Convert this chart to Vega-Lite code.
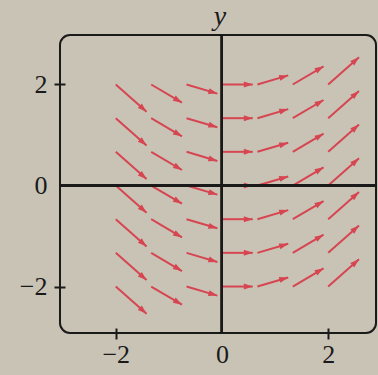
{
  "$schema": "https://vega.github.io/schema/vega-lite/v6.json",
  "width": 316,
  "height": 298,
  "autosize": {"type": "none"},
  "padding": {"left": 60, "top": 35, "right": 2, "bottom": 42},
  "background": "#c9c3b6",
  "title": {"text": "y", "font": "Liberation Serif", "fontStyle": "italic", "fontWeight": "normal", "fontSize": 28, "color": "#1a1a1a", "anchor": "middle", "frame": "group", "offset": 3, "dx": 2},
  "config": {"view": {"stroke": "#1a1a1a", "strokeWidth": 2, "cornerRadius": 10, "fill": null}},
  "data": {"values": [
    {"x": -2, "y": 2, "x_end": -1.42, "y_end": 1.46, "angle": 131.5},
    {"x": -1.333, "y": 2, "x_end": -0.753, "y_end": 1.64, "angle": 120.5},
    {"x": -0.667, "y": 2, "x_end": -0.087, "y_end": 1.82, "angle": 106.4},
    {"x": 0, "y": 2, "x_end": 0.58, "y_end": 2, "angle": 90},
    {"x": 0.667, "y": 2, "x_end": 1.247, "y_end": 2.18, "angle": 73.6},
    {"x": 1.333, "y": 2, "x_end": 1.913, "y_end": 2.36, "angle": 59.5},
    {"x": 2, "y": 2, "x_end": 2.58, "y_end": 2.54, "angle": 48.5},
    {"x": -2, "y": 1.333, "x_end": -1.42, "y_end": 0.793, "angle": 131.5},
    {"x": -1.333, "y": 1.333, "x_end": -0.753, "y_end": 0.973, "angle": 120.5},
    {"x": -0.667, "y": 1.333, "x_end": -0.087, "y_end": 1.153, "angle": 106.4},
    {"x": 0, "y": 1.333, "x_end": 0.58, "y_end": 1.333, "angle": 90},
    {"x": 0.667, "y": 1.333, "x_end": 1.247, "y_end": 1.513, "angle": 73.6},
    {"x": 1.333, "y": 1.333, "x_end": 1.913, "y_end": 1.693, "angle": 59.5},
    {"x": 2, "y": 1.333, "x_end": 2.58, "y_end": 1.873, "angle": 48.5},
    {"x": -2, "y": 0.667, "x_end": -1.42, "y_end": 0.127, "angle": 131.5},
    {"x": -1.333, "y": 0.667, "x_end": -0.753, "y_end": 0.307, "angle": 120.5},
    {"x": -0.667, "y": 0.667, "x_end": -0.087, "y_end": 0.487, "angle": 106.4},
    {"x": 0, "y": 0.667, "x_end": 0.58, "y_end": 0.667, "angle": 90},
    {"x": 0.667, "y": 0.667, "x_end": 1.247, "y_end": 0.847, "angle": 73.6},
    {"x": 1.333, "y": 0.667, "x_end": 1.913, "y_end": 1.027, "angle": 59.5},
    {"x": 2, "y": 0.667, "x_end": 2.58, "y_end": 1.207, "angle": 48.5},
    {"x": -2, "y": 0, "x_end": -1.42, "y_end": -0.54, "angle": 131.5},
    {"x": -1.333, "y": 0, "x_end": -0.753, "y_end": -0.36, "angle": 120.5},
    {"x": -0.667, "y": 0, "x_end": -0.087, "y_end": -0.18, "angle": 106.4},
    {"x": 0, "y": 0, "x_end": 0.58, "y_end": 0, "angle": 90},
    {"x": 0.667, "y": 0, "x_end": 1.247, "y_end": 0.18, "angle": 73.6},
    {"x": 1.333, "y": 0, "x_end": 1.913, "y_end": 0.36, "angle": 59.5},
    {"x": 2, "y": 0, "x_end": 2.58, "y_end": 0.54, "angle": 48.5},
    {"x": -2, "y": -0.667, "x_end": -1.42, "y_end": -1.207, "angle": 131.5},
    {"x": -1.333, "y": -0.667, "x_end": -0.753, "y_end": -1.027, "angle": 120.5},
    {"x": -0.667, "y": -0.667, "x_end": -0.087, "y_end": -0.847, "angle": 106.4},
    {"x": 0, "y": -0.667, "x_end": 0.58, "y_end": -0.667, "angle": 90},
    {"x": 0.667, "y": -0.667, "x_end": 1.247, "y_end": -0.487, "angle": 73.6},
    {"x": 1.333, "y": -0.667, "x_end": 1.913, "y_end": -0.307, "angle": 59.5},
    {"x": 2, "y": -0.667, "x_end": 2.58, "y_end": -0.127, "angle": 48.5},
    {"x": -2, "y": -1.333, "x_end": -1.42, "y_end": -1.873, "angle": 131.5},
    {"x": -1.333, "y": -1.333, "x_end": -0.753, "y_end": -1.693, "angle": 120.5},
    {"x": -0.667, "y": -1.333, "x_end": -0.087, "y_end": -1.513, "angle": 106.4},
    {"x": 0, "y": -1.333, "x_end": 0.58, "y_end": -1.333, "angle": 90},
    {"x": 0.667, "y": -1.333, "x_end": 1.247, "y_end": -1.153, "angle": 73.6},
    {"x": 1.333, "y": -1.333, "x_end": 1.913, "y_end": -0.973, "angle": 59.5},
    {"x": 2, "y": -1.333, "x_end": 2.58, "y_end": -0.793, "angle": 48.5},
    {"x": -2, "y": -2, "x_end": -1.42, "y_end": -2.54, "angle": 131.5},
    {"x": -1.333, "y": -2, "x_end": -0.753, "y_end": -2.36, "angle": 120.5},
    {"x": -0.667, "y": -2, "x_end": -0.087, "y_end": -2.18, "angle": 106.4},
    {"x": 0, "y": -2, "x_end": 0.58, "y_end": -2, "angle": 90},
    {"x": 0.667, "y": -2, "x_end": 1.247, "y_end": -1.82, "angle": 73.6},
    {"x": 1.333, "y": -2, "x_end": 1.913, "y_end": -1.64, "angle": 59.5},
    {"x": 2, "y": -2, "x_end": 2.58, "y_end": -1.46, "angle": 48.5}
  ]},
  "layer": [
    {
      "mark": {"type": "rule", "color": "#d64550", "strokeWidth": 2},
      "encoding": {
        "x": {"field": "x", "type": "quantitative", "scale": {"domain": [-3.05, 2.9], "nice": false, "zero": false},
          "axis": {"title": null, "values": [-2, 0, 2], "grid": false, "domain": false, "offset": -5, "tickSize": 11, "tickWidth": 2, "tickColor": "#1a1a1a",
            "tickOpacity": {"condition": {"test": "datum.value == 0", "value": 0}, "value": 1},
            "labelFont": "Liberation Serif", "labelFontSize": 26, "labelColor": "#1a1a1a", "labelPadding": 2}},
        "y": {"field": "y", "type": "quantitative", "scale": {"domain": [-2.92, 2.98], "nice": false, "zero": false},
          "axis": {"title": null, "values": [-2, 0, 2], "grid": false, "domain": false, "offset": -5, "tickSize": 11, "tickWidth": 2, "tickColor": "#1a1a1a",
            "tickOpacity": {"condition": {"test": "datum.value == 0", "value": 0}, "value": 1},
            "labelFont": "Liberation Serif", "labelFontSize": 26, "labelColor": "#1a1a1a", "labelPadding": 7}},
        "x2": {"field": "x_end"},
        "y2": {"field": "y_end"}
      }
    },
    {
      "mark": {"type": "point", "shape": "M0,0L-0.6,1.8L0.6,1.8Z", "filled": true, "size": 100, "color": "#d64550", "opacity": 1},
      "encoding": {
        "x": {"field": "x_end", "type": "quantitative", "axis": {"title": null}},
        "y": {"field": "y_end", "type": "quantitative", "axis": {"title": null}},
        "angle": {"field": "angle", "type": "quantitative", "scale": null}
      }
    },
    {
      "mark": {"type": "rule", "color": "#1a1a1a", "strokeWidth": 2},
      "encoding": {"x": {"datum": 0, "type": "quantitative", "axis": {"title": null}}}
    },
    {
      "mark": {"type": "rule", "color": "#1a1a1a", "strokeWidth": 2},
      "encoding": {"y": {"datum": 0, "type": "quantitative", "axis": {"title": null}}}
    }
  ]
}
